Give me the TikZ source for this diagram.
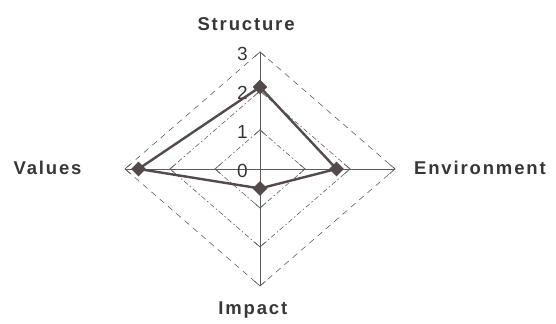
\documentclass[tikz,border=0pt]{standalone}
\usepackage{fontspec}
\setmainfont{Liberation Sans}
\newfontfamily\radarfont[LetterSpace=10]{Liberation Sans}
\usetikzlibrary{calc, shapes.geometric}
\definecolor{axisgray}{RGB}{90,90,90}
\definecolor{gridgray}{RGB}{95,95,95}
\definecolor{datacol}{RGB}{84,74,74}
\definecolor{textgray}{RGB}{55,55,55}
\tikzset{
  axisline/.style={axisgray, line width=0.9pt},
  gridinner/.style={gridgray, line width=0.6pt, dash pattern=on 5pt off 2.5pt on 1.5pt off 2.5pt},
  gridouter/.style={gridgray, line width=0.6pt, dash pattern=on 6pt off 5pt},
  tickmark/.style={gridgray, line width=0.7pt},
  dataline/.style={datacol, line width=2.4pt, line join=round},
  datapt/.style={shape=diamond, aspect=1, fill=datacol, minimum width=15pt, minimum height=15pt, inner sep=0pt},
  axislabel/.style={font=\radarfont\bfseries\fontsize{18.5}{20}\selectfont, text=textgray, anchor=base, inner sep=0pt},
  ticklabel/.style={font=\fontsize{19}{21}\selectfont, text=textgray, anchor=base east, inner sep=0pt}
}
\begin{document}
\begin{tikzpicture}[xscale=1.581,yscale=1.370]
\useasboundingbox (-5.778,-3.974) rectangle (6.578,4.333);
\foreach \r in {1,2,3}{
\coordinate (n\r) at (0,\r);
\coordinate (e\r) at (\r,0);
\coordinate (s\r) at (0,-\r);
\coordinate (w\r) at (-\r,0);
}
\draw[gridinner] (n1) -- (e1) -- (s1) -- (w1) -- cycle;
\draw[gridinner] (n2) -- (e2) -- (s2) -- (w2) -- cycle;
\draw[gridouter] (n3) -- (e3) -- (s3) -- (w3) -- cycle;
\draw[axisline] (w3) -- (e3);
\draw[axisline] (n3) -- (s3);
\foreach \r in {1,2,3}{
\draw[tickmark] ($(n\r)!5pt!(w\r)$) -- (n\r) -- ($(n\r)!5pt!(e\r)$);
\draw[tickmark] ($(e\r)!5pt!(n\r)$) -- (e\r) -- ($(e\r)!5pt!(s\r)$);
\draw[tickmark] ($(s\r)!5pt!(e\r)$) -- (s\r) -- ($(s\r)!5pt!(w\r)$);
\draw[tickmark] ($(w\r)!5pt!(s\r)$) -- (w\r) -- ($(w\r)!5pt!(n\r)$);
}
\foreach \y in {0,1,2,3}
\node[ticklabel] (level\y) at (-0.267,\y-0.21) {\y};
%data
\coordinate (pstructure) at (0,2.1);
\coordinate (penvironment) at (1.7,0);
\coordinate (pimpact) at (0,-0.5);
\coordinate (pvalues) at (-2.7,0);
\draw[dataline] (pstructure) -- (penvironment) -- (pimpact) -- (pvalues) -- cycle;
\node[datapt] (structure) at (pstructure) {};
\node[datapt] (environment) at (penvironment) {};
\node[datapt] (impact) at (pimpact) {};
\node[datapt] (values) at (pvalues) {};
\node[axislabel] (lstructure) at (-0.31,3.55) {Structure};
\node[axislabel, anchor=base west] (lenvironment) at (3.42,-0.15) {Environment};
\node[axislabel] (lvalues) at (-4.72,-0.15) {Values};
\node[axislabel] (limpact) at (-0.16,-3.74) {Impact};
\end{tikzpicture}
\end{document}
